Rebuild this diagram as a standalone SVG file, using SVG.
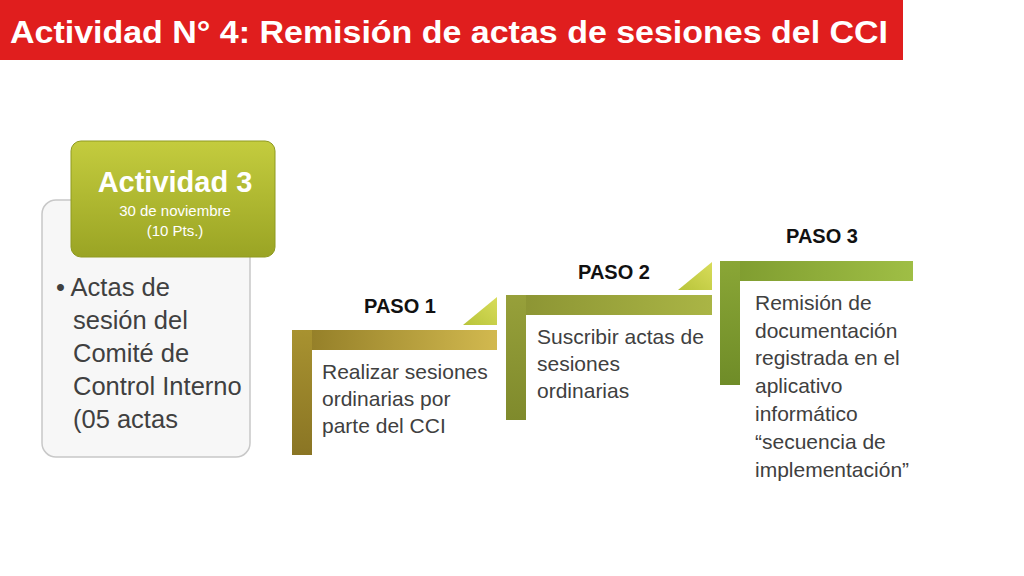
<svg xmlns="http://www.w3.org/2000/svg" width="1024" height="576" viewBox="0 0 1024 576">
<defs>
<linearGradient id="g1" x1="0" x2="1" y1="0" y2="0"><stop offset="0" stop-color="#8f7a25"/><stop offset="1" stop-color="#d2b94f"/></linearGradient>
<linearGradient id="g1v" x1="0" x2="0" y1="0" y2="1"><stop offset="0" stop-color="#a89230"/><stop offset="1" stop-color="#8a7524"/></linearGradient>
<linearGradient id="g2" x1="0" x2="1" y1="0" y2="0"><stop offset="0" stop-color="#8a9232"/><stop offset="1" stop-color="#aab545"/></linearGradient>
<linearGradient id="g2v" x1="0" x2="0" y1="0" y2="1"><stop offset="0" stop-color="#97a03a"/><stop offset="1" stop-color="#7f8a2c"/></linearGradient>
<linearGradient id="g3" x1="0" x2="1" y1="0" y2="0"><stop offset="0" stop-color="#7d9a2e"/><stop offset="1" stop-color="#9fbe45"/></linearGradient>
<linearGradient id="g3v" x1="0" x2="0" y1="0" y2="1"><stop offset="0" stop-color="#8aa636"/><stop offset="1" stop-color="#6f8c28"/></linearGradient>
<linearGradient id="ga" x1="0" x2="0" y1="0" y2="1"><stop offset="0" stop-color="#c4cc3e"/><stop offset="1" stop-color="#9aa424"/></linearGradient>
<linearGradient id="gt" x1="0" x2="1" y1="1" y2="0"><stop offset="0" stop-color="#b8c43a"/><stop offset="1" stop-color="#d8dc5a"/></linearGradient>
</defs>
<style>
text{font-family:"Liberation Sans",Arial,sans-serif}
.b{font-size:21px;fill:#404040}
.big{font-size:25.5px;fill:#404040}
.h{font-size:20px;font-weight:bold;fill:#111}
</style>
<rect width="1024" height="576" fill="#fff"/>
<g id="title">
<rect x="0" y="0" width="903" height="60" fill="#e01e1e"/>
<text x="10" y="43" font-size="32" font-weight="bold" fill="#fff" textLength="878" lengthAdjust="spacingAndGlyphs">Actividad N° 4: Remisión de actas de sesiones del CCI</text>
</g>
<g id="actividad">
<rect x="42" y="200" width="208" height="257" rx="14" fill="#f7f7f7" stroke="#c8c8c8" stroke-width="1.5"/>
<text class="big"><tspan x="56" y="296">• Actas de</tspan><tspan x="73" y="329">sesión del</tspan><tspan x="73" y="362">Comité de</tspan><tspan x="73" y="395">Control Interno</tspan><tspan x="73" y="428">(05 actas</tspan></text>
<rect x="71" y="141" width="204" height="116" rx="10" fill="url(#ga)" stroke="#8f9a20" stroke-width="1"/>
<text x="175" y="192" text-anchor="middle" font-size="29" font-weight="bold" fill="#fff">Actividad 3</text>
<text x="175" y="216" text-anchor="middle" font-size="15" fill="#fff">30 de noviembre</text>
<text x="175" y="236" text-anchor="middle" font-size="15" fill="#fff">(10 Pts.)</text>
</g>
<g id="paso1">
<polygon points="463,325 497,297 497,325" fill="url(#gt)"/>
<rect x="292" y="330" width="205" height="20" fill="url(#g1)"/>
<rect x="292" y="330" width="20" height="125" fill="url(#g1v)"/>
<text class="h" x="400" y="313" text-anchor="middle">PASO 1</text>
<text class="b"><tspan x="322" y="379">Realizar sesiones</tspan><tspan x="322" y="406">ordinarias por</tspan><tspan x="322" y="433">parte del CCI</tspan></text>
</g>
<g id="paso2">
<polygon points="678,290 712,262 712,290" fill="url(#gt)"/>
<rect x="506" y="295" width="206" height="20" fill="url(#g2)"/>
<rect x="506" y="295" width="20" height="125" fill="url(#g2v)"/>
<text class="h" x="614" y="279" text-anchor="middle">PASO 2</text>
<text class="b"><tspan x="537" y="344">Suscribir actas de</tspan><tspan x="537" y="371">sesiones</tspan><tspan x="537" y="398">ordinarias</tspan></text>
</g>
<g id="paso3">
<rect x="720" y="261" width="193" height="20" fill="url(#g3)"/>
<rect x="720" y="261" width="20" height="124" fill="url(#g3v)"/>
<text class="h" x="822" y="243" text-anchor="middle">PASO 3</text>
<text class="b"><tspan x="755" y="310">Remisión de</tspan><tspan x="755" y="338">documentación</tspan><tspan x="755" y="365">registrada en el</tspan><tspan x="755" y="393">aplicativo</tspan><tspan x="755" y="421">informático</tspan><tspan x="755" y="449">“secuencia de</tspan><tspan x="755" y="477">implementación”</tspan></text>
</g>
<g id="connectors"/>
</svg>
